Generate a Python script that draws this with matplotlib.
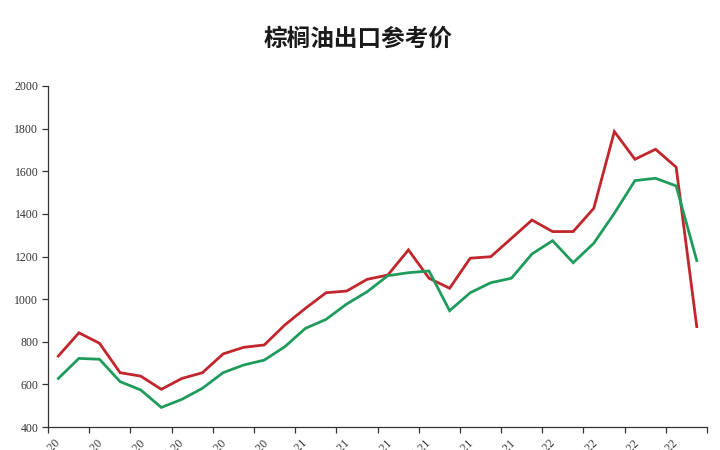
import matplotlib
matplotlib.use("Agg")
import numpy as np
from matplotlib import pyplot as plt

# Monthly categories, Jan 2020 - Aug 2022 (labels every other month)
months = [f"{m}-{y}" for y in ("20", "21", "22")
          for m in ("Jan", "Feb", "Mar", "Apr", "May", "Jun",
                    "Jul", "Aug", "Sep", "Oct", "Nov", "Dec")][:32]

# red series
red_values = [733, 842, 793, 655, 639, 577, 628, 655, 743, 774, 785, 879,
              957, 1030, 1038, 1093, 1113, 1231, 1098, 1051, 1192, 1199, 1285, 1371,
              1317, 1317, 1426, 1786, 1656, 1703, 1619, 871]
# green series
green_values = [628, 722, 718, 613, 574, 492, 530, 582, 655, 691, 714, 777,
                863, 905, 977, 1035, 1110, 1124, 1132, 946, 1030, 1077, 1098, 1212,
                1274, 1171, 1262, 1403, 1556, 1567, 1531, 1181]

title = "棕榈油出口参考价"
y_ticks = [400, 600, 800, 1000, 1200, 1400, 1600, 1800, 2000]

fig = plt.figure(figsize=(7.2, 4.5), dpi=100)
ax = fig.add_axes([0.0667, 0.051, 0.9153, 0.758])

x = np.arange(len(months))
ax.plot(x, red_values, color="#C0262C", linewidth=2.0, solid_joinstyle="miter")
ax.plot(x, green_values, color="#1F9C5C", linewidth=2.0, solid_joinstyle="miter")

# category axis: ticks between categories, one label every two months
# (labels run off the bottom edge, as in the source image)
ax.set_xlim(-0.5, len(months) - 0.5)
ax.set_xticks(np.arange(-0.5, len(months), 2))
ax.set_xticklabels(months[::2] + [""], rotation=45,
                   fontfamily="Liberation Serif", fontsize=8.5, color="#333333")
ax.set_ylim(400, 2000)
ax.set_yticks(y_ticks)
ax.set_yticklabels([str(v) for v in y_ticks],
                   fontfamily="Liberation Serif", fontsize=8.5, color="#333333")

ax.tick_params(axis="both", direction="out", length=4, width=0.9, color="#333333", pad=3)
for side in ("top", "right"):
    ax.spines[side].set_visible(False)
for side in ("left", "bottom"):
    ax.spines[side].set_color("#333333")
    ax.spines[side].set_linewidth(0.9)

fig.text(0.497, 0.913, title, ha="center", va="center",
         fontfamily=["Noto Sans CJK SC", "DejaVu Sans"], fontsize=17,
         fontweight="bold", color="#1a1a1a")

fig.savefig("out.png", dpi=100, facecolor="white")
